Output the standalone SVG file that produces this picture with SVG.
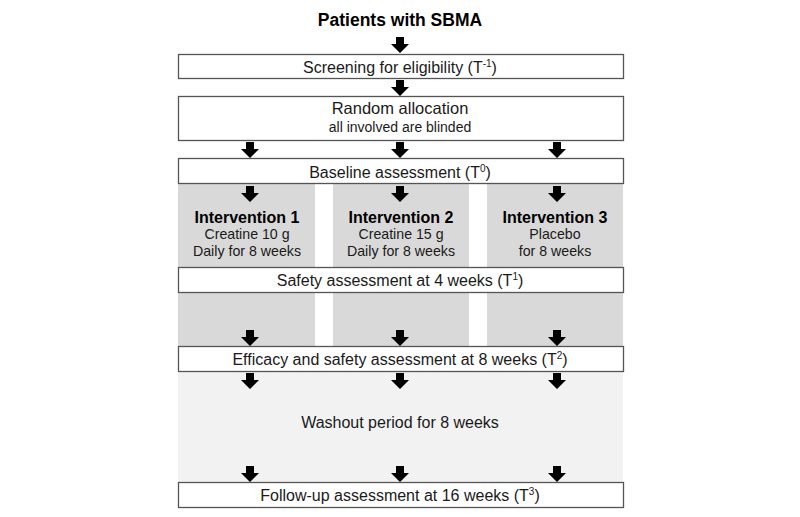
<svg xmlns="http://www.w3.org/2000/svg" xmlns:xlink="http://www.w3.org/1999/xlink" width="800" height="517" viewBox="0 0 800 517">
<style>
.box{fill:#fff;stroke:#555;stroke-width:1.3}
.t{font-family:"Liberation Sans",Arial,sans-serif;font-size:16px;fill:#1a1a1a;text-anchor:middle}
.b{font-weight:bold;font-size:16px;fill:#000}
.h{font-size:17.5px}
.s{font-size:14.2px}
.sup{font-size:10px}
.col{fill:#d9d9d9}
.wash{fill:#f2f2f2}
.arr{fill:#000}
</style>
<defs>
<path id="arr" d="M-4,0 H4 V7 H9 L0,16 L-9,7 H-4 Z"/>
</defs>
<rect width="800" height="517" fill="#fff"/>
<g id="backgrounds">
<rect class="col" x="178" y="184" width="137" height="162"/>
<rect class="col" x="333" y="184" width="136" height="162"/>
<rect class="col" x="487" y="184" width="136" height="162"/>
<rect class="wash" x="178" y="372" width="445" height="110"/>
</g>
<g id="title"><text class="t b h" x="400" y="25.5">Patients with SBMA</text></g>
<g id="screening"><rect class="box" x="178.5" y="54.5" width="445" height="24"/>
<text class="t" x="400" y="73">Screening for eligibility (T<tspan class="sup" dy="-6">-1</tspan><tspan dy="6">)</tspan></text></g>
<g id="random"><rect class="box" x="178.5" y="96.5" width="445" height="44"/>
<text class="t" x="400" y="114" style="font-size:16.5px">Random allocation</text>
<text class="t" x="400" y="132" style="font-size:14px">all involved are blinded</text></g>
<g id="baseline"><rect class="box" x="178.5" y="158.5" width="445" height="25"/>
<text class="t" x="400" y="178">Baseline assessment (T<tspan class="sup" dy="-6">0</tspan><tspan dy="6">)</tspan></text></g>
<g id="int1"><text class="t b" x="247" y="223">Intervention 1</text>
<text class="t s" x="247" y="239">Creatine 10 g</text>
<text class="t s" x="247" y="256">Daily for 8 weeks</text></g>
<g id="int2"><text class="t b" x="401" y="223">Intervention 2</text>
<text class="t s" x="401" y="239">Creatine 15 g</text>
<text class="t s" x="401" y="256">Daily for 8 weeks</text></g>
<g id="int3"><text class="t b" x="555" y="223">Intervention 3</text>
<text class="t s" x="555" y="239">Placebo</text>
<text class="t s" x="555" y="256">for 8 weeks</text></g>
<g id="safety"><rect class="box" x="178.5" y="267.5" width="445" height="25"/>
<text class="t" x="400" y="286">Safety assessment at 4 weeks (T<tspan class="sup" dy="-6">1</tspan><tspan dy="6">)</tspan></text></g>
<g id="efficacy"><rect class="box" x="178.5" y="346.5" width="445" height="25"/>
<text class="t" x="400" y="365">Efficacy and safety assessment at 8 weeks (T<tspan class="sup" dy="-6">2</tspan><tspan dy="6">)</tspan></text></g>
<g id="washout"><text class="t" x="400" y="428">Washout period for 8 weeks</text></g>
<g id="followup"><rect class="box" x="178.5" y="482.5" width="445" height="25"/>
<text class="t" x="400" y="501">Follow-up assessment at 16 weeks (T<tspan class="sup" dy="-6">3</tspan><tspan dy="6">)</tspan></text></g>
<g id="connectors" class="arr">
<use xlink:href="#arr" x="400" y="37"/>
<use xlink:href="#arr" x="400" y="80"/>
<use xlink:href="#arr" x="250" y="142"/><use xlink:href="#arr" x="400" y="142"/><use xlink:href="#arr" x="557" y="142"/>
<use xlink:href="#arr" x="250" y="186"/><use xlink:href="#arr" x="400" y="186"/><use xlink:href="#arr" x="557" y="186"/>
<use xlink:href="#arr" x="250" y="330"/><use xlink:href="#arr" x="400" y="330"/><use xlink:href="#arr" x="557" y="330"/>
<use xlink:href="#arr" x="250" y="373"/><use xlink:href="#arr" x="400" y="373"/><use xlink:href="#arr" x="557" y="373"/>
<use xlink:href="#arr" x="250" y="466"/><use xlink:href="#arr" x="400" y="466"/><use xlink:href="#arr" x="557" y="466"/>
</g>
</svg>
